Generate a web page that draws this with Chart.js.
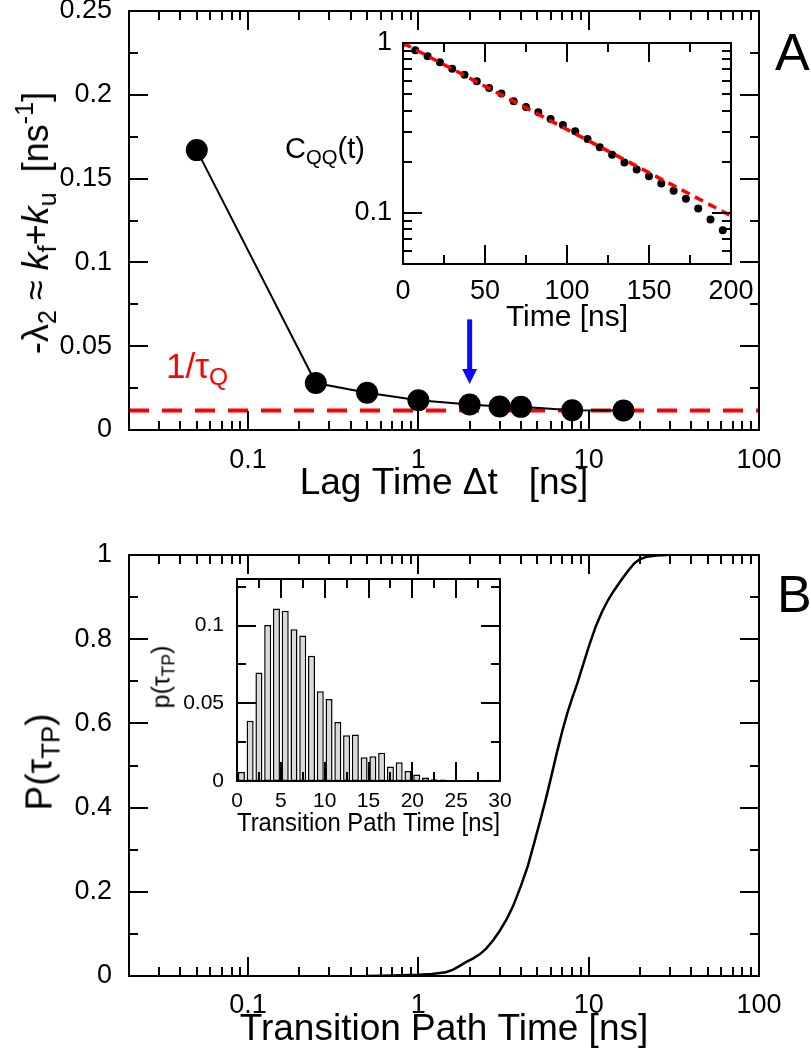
<!DOCTYPE html>
<html>
<head>
<meta charset="utf-8">
<script src="https://cdn.jsdelivr.net/npm/chart.js@4.4.1/dist/chart.umd.min.js"></script>
<style>
body { margin: 0; background: #fff; }
#fig { position: relative; width: 811px; height: 1050px; background: #fff; overflow: hidden;
       font-family: 'Liberation Sans', Arial, sans-serif; }
canvas { position: absolute; }
.lbl { position: absolute; white-space: nowrap; line-height: 1; color: #000; }
.rot { transform: translate(-50%, -50%) rotate(-90deg); }
.sb { font-size: 0.7em; position: relative; top: 0.3em; }
.sp { font-size: 0.7em; position: relative; top: -0.6em; }
</style>
</head>
<body>
<div id="fig">
  <canvas id="cA" width="811" height="510" style="left:0;top:0"></canvas>
  <canvas id="cB" width="811" height="540" style="left:0;top:510px"></canvas>
  <canvas id="cAi" width="440" height="330" style="left:330px;top:20px"></canvas>
  <canvas id="cBi" width="390" height="300" style="left:130px;top:560px"></canvas>

  <div class="lbl rot" style="left:36px;top:223px;font-size:36px">-λ<span class="sb">2</span> ≈ <i>k</i><span class="sb">f</span>+<i>k</i><span class="sb">u</span>&nbsp;&nbsp;[ns<span class="sp">-1</span>]</div>
  <div class="lbl" style="left:166px;top:348px;font-size:35px;color:#ff0000">1/τ<span class="sb">Q</span></div>
  <div class="lbl" style="left:285px;top:134px;font-size:29px">C<span class="sb">QQ</span>(t)</div>
  <div class="lbl" style="left:775px;top:26px;font-size:52px">A</div>

  <div class="lbl rot" style="left:39px;top:762px;font-size:37px">P(τ<span class="sb">TP</span>)</div>
  <div class="lbl rot" style="left:161px;top:677px;font-size:25px">p(τ<span class="sb">TP</span>)</div>
  <div class="lbl" style="left:777px;top:568px;font-size:52px">B</div>
</div>

<script>
// ---- panel A: relaxation rate vs lag time ----
var lagTime = [0.05, 0.25, 0.5, 1, 2, 3, 4, 8, 16];
var lambda2 = [0.167, 0.028, 0.0222, 0.0178, 0.0152, 0.0140, 0.0138, 0.0118, 0.0116];
var rateQ = 0.0117;               // 1/tau_Q
var lagRange = [0.02, 100];
var lagTickLabels = [0.1, 1, 10, 100];
var rateTickLabels = [0, 0.05, 0.1, 0.15, 0.2, 0.25];
var arrowLag = 2;
var arrowRate = [0.066, 0.0275];  // tail, tip

// ---- panel A inset: C_QQ(t) ----
var corrTime = [0, 7.5, 15, 22.5, 30, 37.5, 45, 52.5, 60, 67.5, 75, 82.5, 90, 97.5,
                105, 112.5, 120, 127.5, 135, 142.5, 150, 157.5, 165, 172.5, 180, 187.5, 195];
var corrQQ = [1.0, 0.905, 0.835, 0.77, 0.706, 0.651, 0.595, 0.544, 0.504, 0.454, 0.42, 0.391, 0.357, 0.329,
              0.302, 0.272, 0.243, 0.22, 0.198, 0.18, 0.164, 0.149, 0.135, 0.121, 0.106, 0.0914, 0.079];
var fitTime = [0, 200];
var fitQQ = [1.0, 0.096];
var corrTimeTicks = [0, 50, 100, 150, 200];
var corrTickLabels = [0.1, 1];

// ---- panel B: cumulative transition path time ----
var tpTime = [0.5, 0.7, 1.0, 1.2, 1.45, 1.6, 1.75, 1.9, 2.1, 2.3, 2.5, 2.75, 3.0, 3.3, 3.6, 4.0, 4.4,
              4.8, 5.2, 5.6, 6.0, 6.5, 7.0, 7.5, 8.0, 8.6, 9.2, 10, 11, 12, 13, 14, 15.5, 17, 18.5,
              20, 22, 25, 29];
var tpCdf = [0, 0.001, 0.003, 0.005, 0.009, 0.015, 0.024, 0.033, 0.042, 0.052, 0.065, 0.085, 0.107,
             0.135, 0.166, 0.214, 0.262, 0.318, 0.37, 0.42, 0.47, 0.53, 0.582, 0.625, 0.66, 0.697,
             0.735, 0.782, 0.83, 0.866, 0.893, 0.914, 0.94, 0.962, 0.98, 0.99, 0.996, 0.999, 1.0];
var cdfTickLabels = [0, 0.2, 0.4, 0.6, 0.8, 1];

// ---- panel B inset: histogram ----
var histBins = [0.5, 1.5, 2.5, 3.5, 4.5, 5.5, 6.5, 7.5, 8.5, 9.5, 10.5, 11.5, 12.5, 13.5, 14.5,
                15.5, 16.5, 17.5, 18.5, 19.5, 20.5, 21.5, 22.5, 23.5, 24.5, 25.5, 26.5, 27.5, 28.5, 29.5];
var histP = [0.0058, 0.0387, 0.0698, 0.1004, 0.111, 0.1095, 0.0977, 0.0937, 0.0806, 0.0578, 0.0528,
             0.038, 0.0294, 0.03, 0.0153, 0.0159, 0.0182, 0.0093, 0.0121, 0.0065, 0.0042, 0.0023,
             0.0012, 0.001, 0.0005, 0, 0, 0, 0.0008, 0];
var histTimeTicks = [0, 5, 10, 15, 20, 25, 30];
var histPTicks = [0, 0.05, 0.1];

var FONT = "'Liberation Sans', Arial, sans-serif";

function pts(xs, ys) {
    return xs.map(function(x, i) { return { x: x, y: ys[i] }; });
}

// tick positions for the frame (all four sides, pointing inward)
function logTicks(min, max) {
    var out = [];
    for (var e = -3; e <= 3; e++) {
        for (var k = 1; k <= 9; k++) {
            var v = k * Math.pow(10, e);
            if (v >= min * 0.999 && v <= max * 1.001) out.push([v, k === 1]);
        }
    }
    return out;
}
function linTicks(min, max, majorStep, minorStep) {
    var out = [];
    var n = Math.round((max - min) / minorStep);
    for (var i = 0; i <= n; i++) {
        var v = min + i * minorStep;
        if (v > max + 1e-9) break;
        var r = v / majorStep;
        out.push([v, Math.abs(r - Math.round(r)) < 1e-6]);
    }
    return out;
}

function makeFrame(xTicks, yTicks) {
    return {
        id: 'frameTicks',
        afterDraw: function(chart) {
            var ctx = chart.ctx, a = chart.chartArea;
            var sx = chart.scales.x, sy = chart.scales.y;
            ctx.save();
            ctx.fillStyle = '#000';
            for (var i = 0; i < xTicks.length; i++) {
                var px = Math.round(sx.getPixelForValue(xTicks[i][0]));
                var lx = xTicks[i][1] ? 19 : 9;
                ctx.fillRect(px - 1, a.bottom - lx, 2, lx);
                ctx.fillRect(px - 1, a.top, 2, lx);
            }
            for (var j = 0; j < yTicks.length; j++) {
                var py = Math.round(sy.getPixelForValue(yTicks[j][0]));
                var ly = yTicks[j][1] ? 19 : 9;
                ctx.fillRect(a.left, py - 1, ly, 2);
                ctx.fillRect(a.right - ly, py - 1, ly, 2);
            }
            ctx.strokeStyle = '#000';
            ctx.lineWidth = 2;
            ctx.setLineDash([]);
            ctx.strokeRect(a.left, a.top, a.right - a.left, a.bottom - a.top);
            ctx.restore();
        }
    };
}

var arrowMark = {
    id: 'arrowMark',
    afterDatasetsDraw: function(chart) {
        var ctx = chart.ctx, x = chart.scales.x, y = chart.scales.y;
        var px = x.getPixelForValue(arrowLag);
        var y0 = y.getPixelForValue(arrowRate[0]), y1 = y.getPixelForValue(arrowRate[1]);
        ctx.save();
        ctx.fillStyle = '#0a0aff';
        ctx.fillRect(px - 2.5, y0, 5, y1 - y0 - 14);
        ctx.beginPath();
        ctx.moveTo(px - 7.5, y1 - 15);
        ctx.lineTo(px + 7.5, y1 - 15);
        ctx.lineTo(px, y1);
        ctx.closePath();
        ctx.fill();
        ctx.restore();
    }
};

function axis(type, min, max, labels, fontSize, pad, size, horizontal, title) {
    return {
        type: type, min: min, max: max, offset: false,
        grid: { display: false },
        border: { display: false },
        afterBuildTicks: function(s) {
            s.ticks = labels.map(function(v) { return { value: v }; });
        },
        afterFit: function(s) {
            if (horizontal) s.height = size; else s.width = size;
            s.paddingLeft = 0; s.paddingRight = 0; s.paddingTop = 0; s.paddingBottom = 0;
        },
        ticks: {
            autoSkip: false, maxRotation: 0, minRotation: 0, padding: pad, color: '#000',
            font: { family: FONT, size: fontSize },
            callback: function(v) { return String(v); }
        },
        title: title ? {
            display: true, text: title.text, color: '#000',
            font: { family: FONT, size: title.size, lineHeight: 1.1 },
            padding: { top: 0, bottom: title.pb }
        } : { display: false }
    };
}

function baseOptions(padding, scales) {
    return {
        responsive: false, animation: false, devicePixelRatio: 1,
        layout: { padding: padding },
        plugins: { legend: { display: false }, tooltip: { enabled: false } },
        scales: scales
    };
}

// panel A
new Chart(document.getElementById('cA'), {
    type: 'scatter',
    data: {
        datasets: [
            { data: pts(lagTime, lambda2), showLine: true, borderColor: '#000', borderWidth: 2,
              pointRadius: 11, pointBackgroundColor: '#000', pointBorderWidth: 0 },
            { data: pts(lagRange, [rateQ, rateQ]), showLine: true, borderColor: '#ff0000',
              borderWidth: 4, borderDash: [20, 13], pointRadius: 0 }
        ]
    },
    options: baseOptions({ left: 0, top: 10, right: 52, bottom: 0 }, {
        x: axis('logarithmic', lagRange[0], lagRange[1], lagTickLabels, 27, 6, 80, true,
                { text: 'Lag Time Δt   [ns]', size: 37, pb: 6 }),
        y: axis('linear', 0, 0.25, rateTickLabels, 27, 9, 129, false, null)
    }),
    plugins: [makeFrame(logTicks(lagRange[0], lagRange[1]), linTicks(0, 0.25, 0.05, 0.025)), arrowMark]
});

// panel A inset
new Chart(document.getElementById('cAi'), {
    type: 'scatter',
    data: {
        datasets: [
            { data: pts(fitTime, fitQQ), showLine: true, borderColor: '#ff0000', borderWidth: 3.5,
              borderDash: [9, 6], pointRadius: 0 },
            { data: pts(corrTime, corrQQ), pointRadius: 4, pointBackgroundColor: '#000', pointBorderWidth: 0 }
        ]
    },
    options: baseOptions({ left: 0, top: 23, right: 39, bottom: 0 }, {
        x: axis('linear', 0, 200, corrTimeTicks, 27, 3, 86, true,
                { text: 'Time [ns]', size: 30, pb: 16 }),
        y: axis('logarithmic', 0.05, 1, corrTickLabels, 27, 3, 73, false, null)
    }),
    plugins: [makeFrame(linTicks(0, 200, 50, 25), logTicks(0.05, 1))]
});

// panel B
new Chart(document.getElementById('cB'), {
    type: 'scatter',
    data: {
        datasets: [
            { data: pts(tpTime, tpCdf), showLine: true, borderColor: '#000', borderWidth: 2.5,
              pointRadius: 0 }
        ]
    },
    options: baseOptions({ left: 0, top: 45, right: 52, bottom: 0 }, {
        x: axis('logarithmic', lagRange[0], lagRange[1], lagTickLabels, 27, 5, 74, true,
                { text: 'Transition Path Time [ns]', size: 37, pb: 0 }),
        y: axis('linear', 0, 1, cdfTickLabels, 27, 9, 129, false, null)
    }),
    plugins: [makeFrame(logTicks(lagRange[0], lagRange[1]), linTicks(0, 1, 0.2, 0.1))]
});

// panel B inset
new Chart(document.getElementById('cBi'), {
    type: 'bar',
    data: {
        datasets: [
            { data: pts(histBins, histP), backgroundColor: '#d9d9d9', borderColor: '#000',
              borderWidth: 1.5, borderSkipped: false, barPercentage: 0.8, categoryPercentage: 1 }
        ]
    },
    options: baseOptions({ left: 0, top: 19, right: 20, bottom: 0 }, {
        x: axis('linear', 0, 30, histTimeTicks, 21, 0, 79, true,
                { text: 'Transition Path Time [ns]', size: 25, pb: 22 }),
        y: axis('linear', 0, 0.13, histPTicks, 21, 5, 107, false, null)
    }),
    plugins: [makeFrame(linTicks(0, 30, 5, 2.5), linTicks(0, 0.13, 0.05, 0.025))]
});
</script>
</body>
</html>
